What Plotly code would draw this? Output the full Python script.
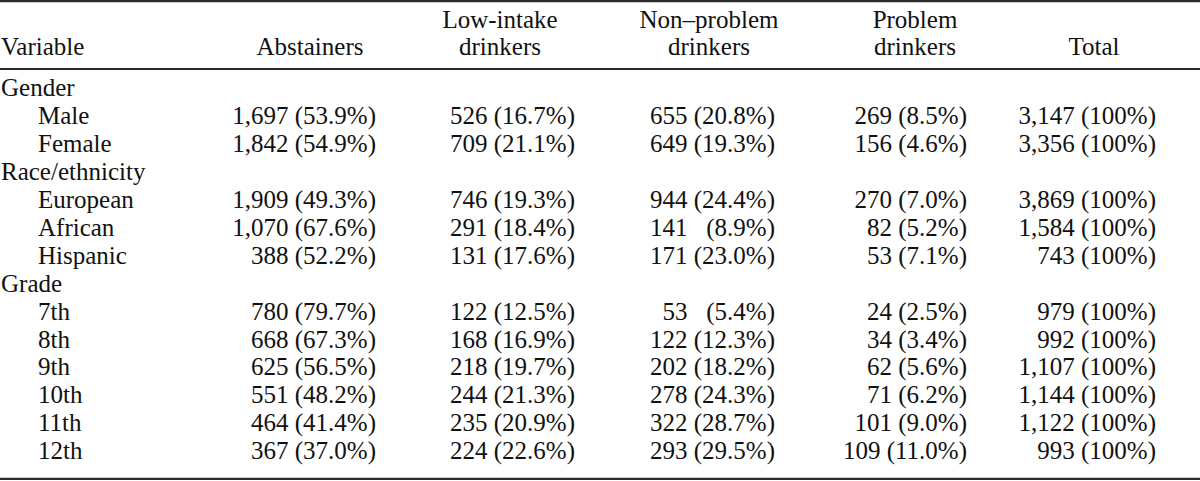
import plotly.graph_objects as go

# ---------------- data ----------------
groups = ["Gender", "Race/ethnicity", "Grade"]
group_items = [
    ["Male", "Female"],
    ["European", "African", "Hispanic"],
    ["7th", "8th", "9th", "10th", "11th", "12th"],
]
header_line1 = ["", "", "Low-intake", "Non\u2013problem", "Problem", ""]
header_line2 = ["Variable", "Abstainers", "drinkers", "drinkers", "drinkers", "Total"]

abstainers_n = [1697, 1842, 1909, 1070, 388, 780, 668, 625, 551, 464, 367]
abstainers_pct = [53.9, 54.9, 49.3, 67.6, 52.2, 79.7, 67.3, 56.5, 48.2, 41.4, 37.0]
low_n = [526, 709, 746, 291, 131, 122, 168, 218, 244, 235, 224]
low_pct = [16.7, 21.1, 19.3, 18.4, 17.6, 12.5, 16.9, 19.7, 21.3, 20.9, 22.6]
nonprob_n = [655, 649, 944, 141, 171, 53, 122, 202, 278, 322, 293]
nonprob_pct = [20.8, 19.3, 24.4, 8.9, 23.0, 5.4, 12.3, 18.2, 24.3, 28.7, 29.5]
prob_n = [269, 156, 270, 82, 53, 24, 34, 62, 71, 101, 109]
prob_pct = [8.5, 4.6, 7.0, 5.2, 7.1, 2.5, 3.4, 5.6, 6.2, 9.0, 11.0]
total_n = [3147, 3356, 3869, 1584, 743, 979, 992, 1107, 1144, 1122, 993]

# ---------------- layout constants ----------------
W, H = 1200, 481
FONT = "Liberation Serif, Times New Roman, serif"
FS = 25
COLOR = "#111111"
ROW0_PX = 90.0      # pixel centre of first body row
ROW_STEP = 27.92    # pixel distance between rows
HEAD_ROWS = [-2.45, -1.48]  # header text rows in row units
LABEL_X = 1
INDENT_X = 38
COL_RIGHT = [376, 575, 775, 967, 1156]
COL_CENTER = [310, 500, 709, 915, 1094]

def fmt_n(v):
    return f"{v:,}"

def fmt_cell(n, p, pad=False):
    s = f"{fmt_n(n)} ({p:.1f}%)"
    if pad and p < 10:
        s = f"{fmt_n(n)}\u00a0\u00a0\u00a0({p:.1f}%)"
    return s

# build rows
label_rows, label_text, label_x = [], [], []
body_rows = []
r = 0
for g, items in zip(groups, group_items):
    label_rows.append(r); label_text.append(g); label_x.append(LABEL_X)
    r += 1
    for it in items:
        label_rows.append(r); label_text.append(it); label_x.append(INDENT_X)
        body_rows.append(r)
        r += 1

columns = [
    [fmt_cell(n, p) for n, p in zip(abstainers_n, abstainers_pct)],
    [fmt_cell(n, p) for n, p in zip(low_n, low_pct)],
    [fmt_cell(n, p, pad=True) for n, p in zip(nonprob_n, nonprob_pct)],
    [fmt_cell(n, p) for n, p in zip(prob_n, prob_pct)],
    [f"{fmt_n(n)} (100%)" for n in total_n],
]

fig = go.Figure()
tf = dict(family=FONT, size=FS, color=COLOR)

# row labels
fig.add_trace(go.Scatter(x=label_x, y=label_rows, text=label_text, mode="text",
                         textposition="middle right", textfont=tf, hoverinfo="skip"))
# numeric columns
for xr, col in zip(COL_RIGHT, columns):
    fig.add_trace(go.Scatter(x=[xr] * len(col), y=body_rows, text=col, mode="text",
                             textposition="middle left", textfont=tf, hoverinfo="skip"))
# headers
fig.add_trace(go.Scatter(x=[LABEL_X], y=[HEAD_ROWS[1]], text=[header_line2[0]], mode="text",
                         textposition="middle right", textfont=tf, hoverinfo="skip"))
for xc, t1, t2 in zip(COL_CENTER, header_line1[1:], header_line2[1:]):
    xs, ys, ts = [], [], []
    if t1:
        xs.append(xc); ys.append(HEAD_ROWS[0]); ts.append(t1)
    xs.append(xc); ys.append(HEAD_ROWS[1]); ts.append(t2)
    fig.add_trace(go.Scatter(x=xs, y=ys, text=ts, mode="text",
                             textposition="middle center", textfont=tf, hoverinfo="skip"))

y_top = -ROW0_PX / ROW_STEP
y_bot = (H - ROW0_PX) / ROW_STEP

line_col = "#2a2a2a"
shapes = []
for py, lw in [(1.2, 2.2), (69, 2.2), (478.8, 2.2)]:
    shapes.append(dict(type="line", xref="paper", yref="paper", x0=0, x1=1,
                       y0=1 - py / H, y1=1 - py / H, line=dict(color=line_col, width=lw)))

fig.update_layout(
    width=W, height=H, margin=dict(l=0, r=0, t=0, b=0),
    paper_bgcolor="white", plot_bgcolor="white", showlegend=False,
    xaxis=dict(range=[0, W], visible=False, fixedrange=True),
    yaxis=dict(range=[y_bot, y_top], visible=False, fixedrange=True),
    shapes=shapes,
)
fig.write_html("out.html", config={"displayModeBar": False},
               post_script="document.body.style.margin='0';document.body.style.overflow='hidden';")
